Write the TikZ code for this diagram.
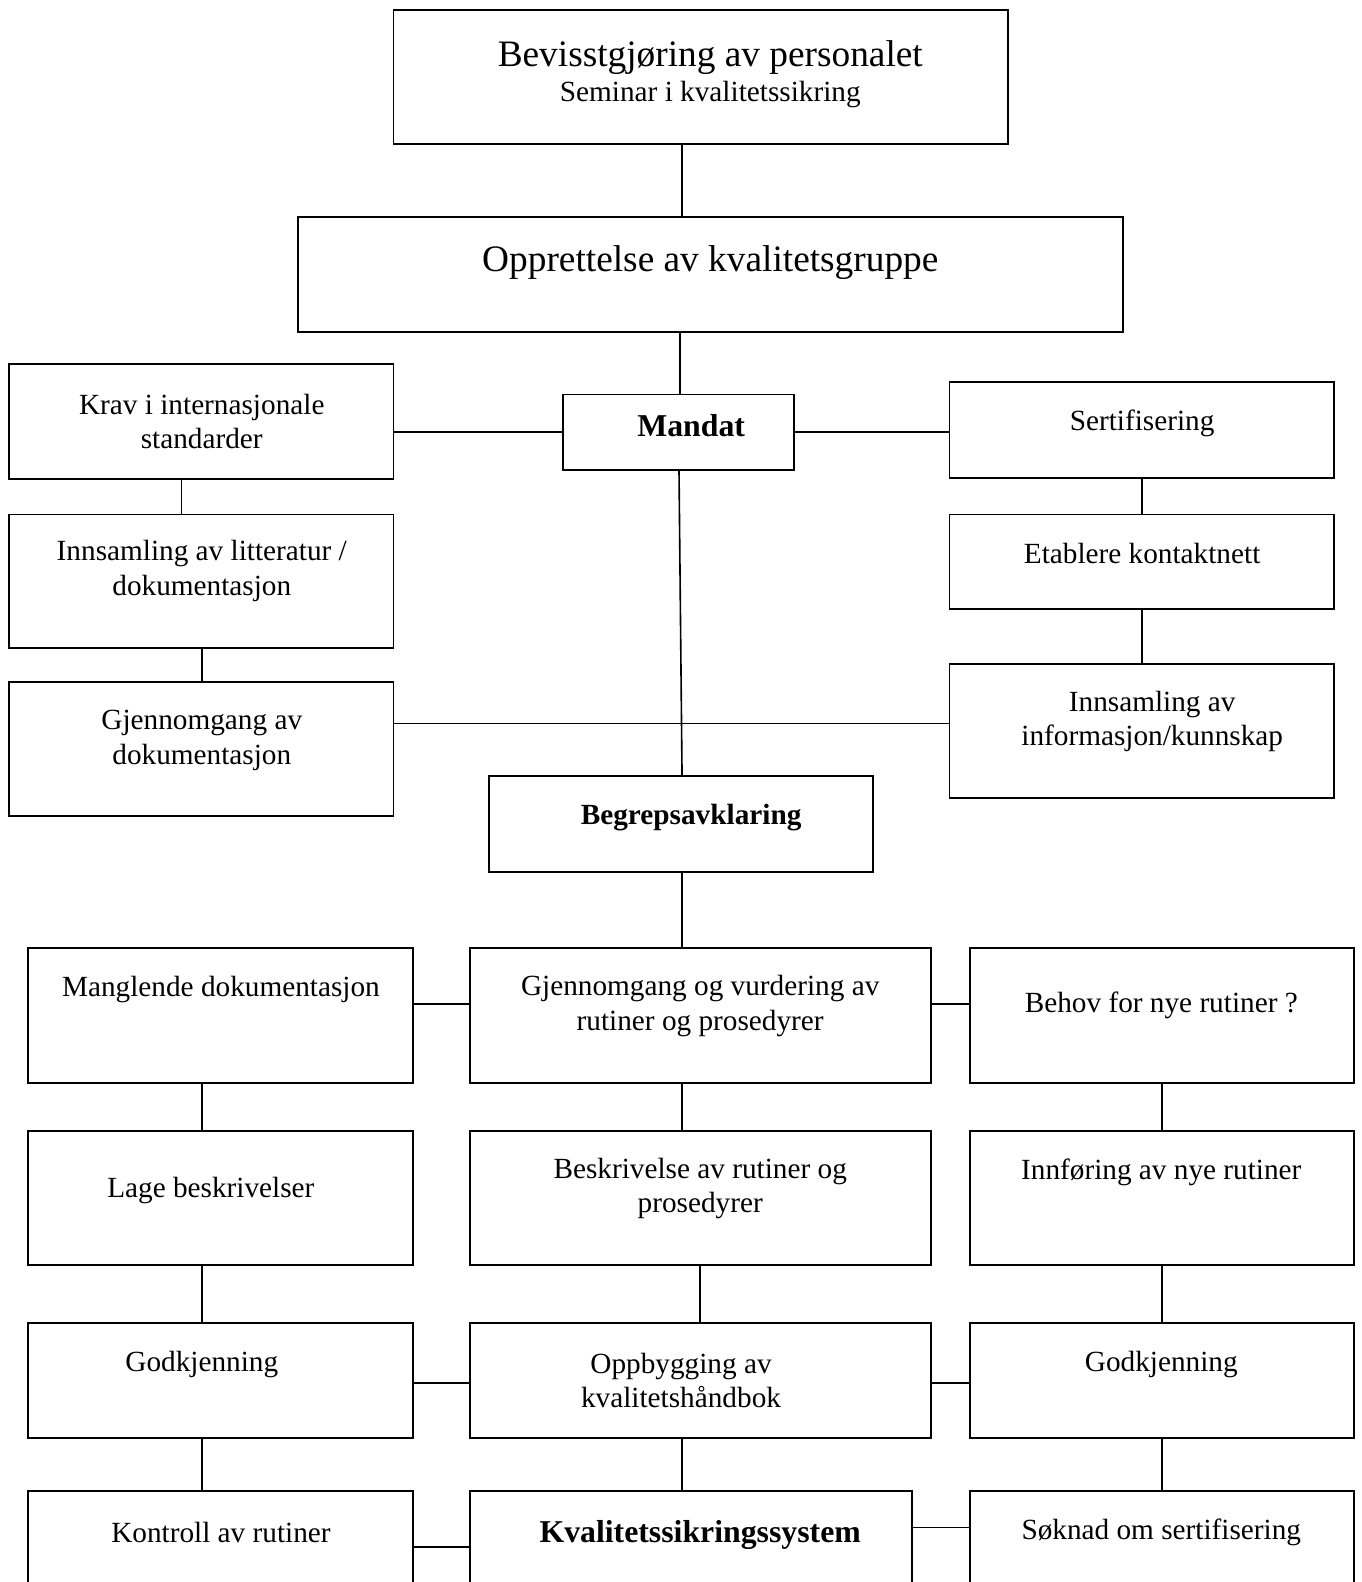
\documentclass[tikz,border=0pt]{standalone}
\usepackage{fontspec}
\setmainfont{Liberation Serif}
\newcommand\fbody{\fontsize{29}{34}\selectfont}
\newcommand\fbig{\fontsize{37}{42}\selectfont}
\newcommand\fbold{\fontsize{31.5}{36}\selectfont\bfseries}
\tikzset{
  blk/.style={draw, line width=1.8pt, inner sep=0pt, rectangle},
  txt/.style={font=\fbody, align=center, inner sep=0pt, yshift=-3pt},
  con/.style={line width=1.6pt},
}
% box from (x1,y1) to (x2,y2), y measured downward
\newcommand\bx[5]{\node[blk, minimum width={(#4-#2)*1pt}, minimum height={(#5-#3)*1pt}] (#1) at ({(#2+#4)/2},{(#3+#5)/2}) {};}
\begin{document}
\begin{tikzpicture}[x=1pt,y=-1pt]
\useasboundingbox (0,0) rectangle (1349,1568);
\clip (0,0) rectangle (1349,1568);

% boxes
\bx{bev}{390}{10}{999}{143}
\bx{opp}{295}{215}{1113}{329}
\bx{krav}{9}{361}{390}{475}
\bx{mandat}{558}{391}{787}{466}
\bx{sert}{941}{379}{1322}{474}
\bx{innlit}{9}{510}{390}{642}
\bx{etab}{941}{510}{1322}{604}
\bx{gjdok}{9}{676}{390}{809}
\bx{innsinfo}{941}{658}{1322}{791}
\bx{begr}{485}{769}{865}{864}
\bx{mangl}{28}{940}{409}{1073}
\bx{gjvur}{466}{940}{923}{1073}
\bx{behov}{961}{940}{1342}{1073}
\bx{lage}{28}{1121}{409}{1254}
\bx{beskr}{466}{1121}{923}{1254}
\bx{innf}{961}{1121}{1342}{1254}
\bx{godkL}{28}{1311}{409}{1425}
\bx{oppb}{466}{1311}{923}{1425}
\bx{godkR}{961}{1311}{1342}{1425}
\bx{kontr}{28}{1478}{409}{1610}
\bx{kss}{466}{1478}{904}{1610}
\bx{sokn}{961}{1478}{1342}{1610}

% texts
\node[txt, font=\fbig] (bevT) at (704,54) {Bevisstgjøring av personalet};
\node[txt] (bevS) at (704,91) {Seminar i kvalitetssikring};
\node[txt, font=\fbig] (oppT) at (704,257) {Opprettelse av kvalitetsgruppe};
\node[txt] (kravT) at (200,415) {Krav i internasjonale\\standarder};
\node[txt, font=\fbold] (mandatT) at (685,419) {Mandat};
\node[txt] (sertT) at (1132,417) {Sertifisering};
\node[txt] (innlitT) at (200,563) {Innsamling av litteratur /\\dokumentasjon};
\node[txt] (etabT) at (1132,546) {Etablere kontaktnett};
\node[txt] (gjdokT) at (200,731) {Gjennomgang av\\dokumentasjon};
\node[txt] (innsinfoT) at (1142,712) {Innsamling av\\informasjon/kunnskap};
\node[txt, font=\fbody\bfseries] (begrT) at (685,807) {Begrepsavklaring};
\node[txt] (manglT) at (219,978) {Manglende dokumentasjon};
\node[txt] (gjvurT) at (694,994) {Gjennomgang og vurdering av\\rutiner og prosedyrer};
\node[txt] (behovT) at (1151,993) {Behov for nye rutiner ?};
\node[txt] (lageT) at (209,1177) {Lage beskrivelser};
\node[txt] (beskrT) at (694,1175) {Beskrivelse av rutiner og\\prosedyrer};
\node[txt] (innfT) at (1151,1159) {Innføring av nye rutiner};
\node[txt] (godkLT) at (200,1349) {Godkjenning};
\node[txt] (oppbT) at (675,1365) {Oppbygging av\\kvalitetshåndbok};
\node[txt] (godkRT) at (1151,1349) {Godkjenning};
\node[txt] (kontrT) at (219,1516) {Kontroll av rutiner};
\node[txt, font=\fbold] (kssT) at (694,1518) {Kvalitetssikringssystem};
\node[txt] (soknT) at (1151,1516) {Søknad om sertifisering};

% guide coordinates for connector positions
\coordinate (vA) at (676,0);
\coordinate (vB) at (674,0);
\coordinate (vC) at (180,0);
\coordinate (vD) at (200,0);
\coordinate (vE) at (1132,0);
\coordinate (vF) at (673,0);
\coordinate (vG) at (694,0);
\coordinate (vH) at (1152,0);
\coordinate (hA) at (0,428);
\coordinate (hB) at (0,717);
\coordinate (hC) at (0,995);
\coordinate (hD) at (0,1371);
\coordinate (hE) at (0,1533);
\coordinate (hF) at (0,1514);

% connectors
\draw[con] (bev.south -| vA) -- (opp.north -| vA);
\draw[con] (opp.south -| vB) -- (mandat.north -| vB);
\draw[con] (krav.east |- hA) -- (mandat.west |- hA);
\draw[con] (mandat.east |- hA) -- (sert.west |- hA);
\draw[con] (krav.south -| vC) -- (innlit.north -| vC);
\draw[con] (innlit.south -| vD) -- (gjdok.north -| vD);
\draw[con] (sert.south -| vE) -- (etab.north -| vE);
\draw[con] (etab.south -| vE) -- (innsinfo.north -| vE);
\draw[con] (mandat.south -| vF) -- (begr.north -| vA);
\draw[con] (gjdok.east |- hB) -- (innsinfo.west |- hB);
\draw[con] (begr.south -| vA) -- (gjvur.north -| vA);
\draw[con] (mangl.east |- hC) -- (gjvur.west |- hC);
\draw[con] (gjvur.east |- hC) -- (behov.west |- hC);
\draw[con] (mangl.south -| vD) -- (lage.north -| vD);
\draw[con] (gjvur.south -| vA) -- (beskr.north -| vA);
\draw[con] (behov.south -| vH) -- (innf.north -| vH);
\draw[con] (lage.south -| vD) -- (godkL.north -| vD);
\draw[con] (beskr.south -| vG) -- (oppb.north -| vG);
\draw[con] (innf.south -| vH) -- (godkR.north -| vH);
\draw[con] (godkL.east |- hD) -- (oppb.west |- hD);
\draw[con] (oppb.east |- hD) -- (godkR.west |- hD);
\draw[con] (godkL.south -| vD) -- (kontr.north -| vD);
\draw[con] (oppb.south -| vA) -- (kss.north -| vA);
\draw[con] (godkR.south -| vH) -- (sokn.north -| vH);
\draw[con] (kontr.east |- hE) -- (kss.west |- hE);
\draw[con] (kss.east |- hF) -- (sokn.west |- hF);
\end{tikzpicture}
\end{document}
